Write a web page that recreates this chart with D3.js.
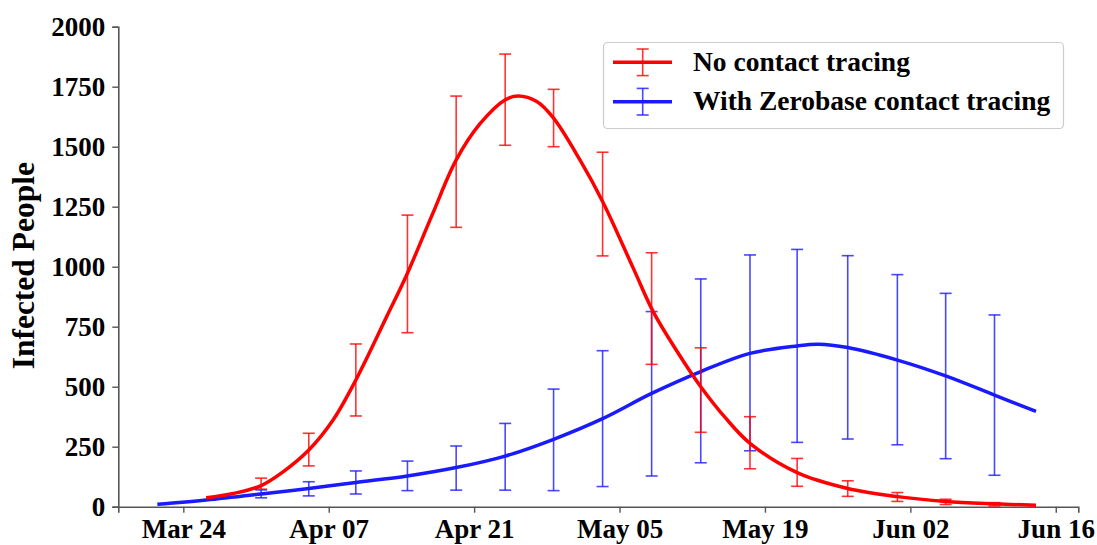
<!DOCTYPE html>
<html>
<head>
<meta charset="utf-8">
<script src="https://cdn.jsdelivr.net/npm/d3@7"></script>
<style>
  html, body { margin: 0; padding: 0; background: #fff; }
  svg { display: block; }
  text { font-family: "Liberation Serif", "Times New Roman", serif; font-weight: bold; fill: #000; }
</style>
</head>
<body>
<svg id="chart" width="1097" height="545"></svg>
<script>
// ---- data (x = days after Mar 24) ----
const tickDays = [0, 14, 28, 42, 56, 70, 84];
const tickLabels = ["Mar 24", "Apr 07", "Apr 21", "May 05", "May 19", "Jun 02", "Jun 16"];
const yTicks = [0, 250, 500, 750, 1000, 1250, 1500, 1750, 2000];

const seriesNames = ["No contact tracing", "With Zerobase contact tracing"];

// curve samples
const redDays = [2.2, 4.8, 7.49, 9.6, 12.08, 14.4, 16.61, 19.58, 21.57, 24.0, 26.26, 28.57, 30.97, 32.25, 34.03, 35.63, 38.2, 40.38, 43.33, 45.25, 47.5, 49.82, 52.2, 54.56, 59.1, 63.97, 68.75, 73.4, 78.1, 82.1];
const redVals = [37, 55, 88, 145, 236, 360, 528, 792, 972, 1220, 1444, 1596, 1695, 1711, 1688, 1620, 1444, 1271, 993, 812, 650, 500, 370, 264, 142, 76, 42, 22, 12, 6];

const blueDays = [-2.5, 2.2, 7.49, 12.08, 16.61, 21.58, 26.27, 30.99, 35.65, 40.37, 45.09, 49.82, 54.56, 59.1, 61.14, 63.97, 68.75, 73.4, 78.1, 82.1];
const blueVals = [10, 28, 53, 76, 101, 128, 163, 211, 281, 367, 472, 563, 639, 670, 677, 663, 611, 545, 465, 397];

// error bars
const errDays = [7.49, 12.08, 16.61, 21.58, 26.27, 30.99, 35.65, 40.37, 45.09, 49.82, 54.56, 59.1, 63.97, 68.75, 73.4, 78.1];
const redLow  = [73, 170, 378, 725, 1164, 1506, 1500, 1045, 593, 310, 158, 85, 43, 22, 9, 3];
const redHigh = [119, 306, 678, 1215, 1711, 1886, 1739, 1477, 1058, 662, 375, 201, 108, 59, 31, 17];
const blueLow  = [37, 45, 53, 67, 69, 69, 67, 84, 128, 183, 233, 268, 282, 258, 200, 131];
const blueHigh = [70, 104, 149, 190, 253, 347, 490, 650, 813, 949, 1049, 1072, 1046, 967, 889, 799];

const colors = ["#ff0000", "#1a1aff"];

// ---- layout ----
const svg = d3.select("#chart");
svg.append("rect").attr("width", 1097).attr("height", 545).attr("fill", "#fff");

const x = d3.scaleLinear().domain([-6.26, 86.17]).range([118.3, 1078.3]);
const y = d3.scaleLinear().domain([0, 2000]).range([506.7, 26.7]);

// axes
const xAxis = d3.axisBottom(x).tickValues(tickDays).tickFormat((d, i) => tickLabels[i]).tickSize(6).tickPadding(6);
const yAxis = d3.axisLeft(y).tickValues(yTicks).tickFormat(d3.format("d")).tickSize(6).tickPadding(7);

const gx = svg.append("g").attr("transform", `translate(0,${y(0)})`).call(xAxis);
const gy = svg.append("g").attr("transform", `translate(${x.range()[0]},0)`).call(yAxis);
[gx, gy].forEach(g => {
  g.select(".domain").attr("stroke", "#555").attr("stroke-width", 1.6);
  g.selectAll(".tick line").attr("stroke", "#555").attr("stroke-width", 1.4);
  g.selectAll(".tick text").attr("font-size", 27).attr("font-family", "Liberation Serif").attr("font-weight", "bold").attr("fill", "#000");
});

svg.append("text")
  .attr("transform", `translate(34,${y(1000) - 1}) rotate(-90)`)
  .attr("text-anchor", "middle")
  .attr("font-size", 31.5)
  .text("Infected People");

// ---- series ----
function drawErr(lows, highs, color) {
  const g = svg.append("g").attr("stroke", color).attr("stroke-width", 1.6).attr("stroke-opacity", 0.8);
  errDays.forEach((d, i) => {
    const cx = x(d);
    g.append("line").attr("x1", cx).attr("x2", cx).attr("y1", y(lows[i])).attr("y2", y(highs[i]));
    g.append("line").attr("x1", cx - 6).attr("x2", cx + 6).attr("y1", y(lows[i])).attr("y2", y(lows[i]));
    g.append("line").attr("x1", cx - 6).attr("x2", cx + 6).attr("y1", y(highs[i])).attr("y2", y(highs[i]));
  });
}
function drawLine(days, vals, color) {
  const line = d3.line().x(d => x(d[0])).y(d => y(d[1])).curve(d3.curveCatmullRom.alpha(0.5));
  svg.append("path").datum(days.map((d, i) => [d, vals[i]]))
    .attr("d", line).attr("fill", "none").attr("stroke", color).attr("stroke-width", 3.5).attr("stroke-linejoin", "round");
}

drawErr(blueLow, blueHigh, colors[1]);
drawLine(blueDays, blueVals, colors[1]);
drawErr(redLow, redHigh, colors[0]);
drawLine(redDays, redVals, colors[0]);

// ---- legend ----
const lg = svg.append("g");
lg.append("rect").attr("x", 603.5).attr("y", 42.5).attr("width", 460).attr("height", 86).attr("rx", 4)
  .attr("fill", "#fff").attr("stroke", "#cccccc").attr("stroke-width", 1.2);
seriesNames.forEach((name, i) => {
  const cy = 62.3 + i * 39.4;
  lg.append("line").attr("x1", 613).attr("x2", 672).attr("y1", cy).attr("y2", cy)
    .attr("stroke", colors[i]).attr("stroke-width", 3.5);
  const eg = lg.append("g").attr("stroke", colors[i]).attr("stroke-width", 1.6).attr("stroke-opacity", 0.8);
  eg.append("line").attr("x1", 642.7).attr("x2", 642.7).attr("y1", cy - 13.3).attr("y2", cy + 13.3);
  eg.append("line").attr("x1", 636.7).attr("x2", 648.7).attr("y1", cy - 13.3).attr("y2", cy - 13.3);
  eg.append("line").attr("x1", 636.7).attr("x2", 648.7).attr("y1", cy + 13.3).attr("y2", cy + 13.3);
  lg.append("text").attr("x", 693).attr("y", cy + 8.5).attr("font-size", 27.5).text(name);
});
</script>
</body>
</html>
